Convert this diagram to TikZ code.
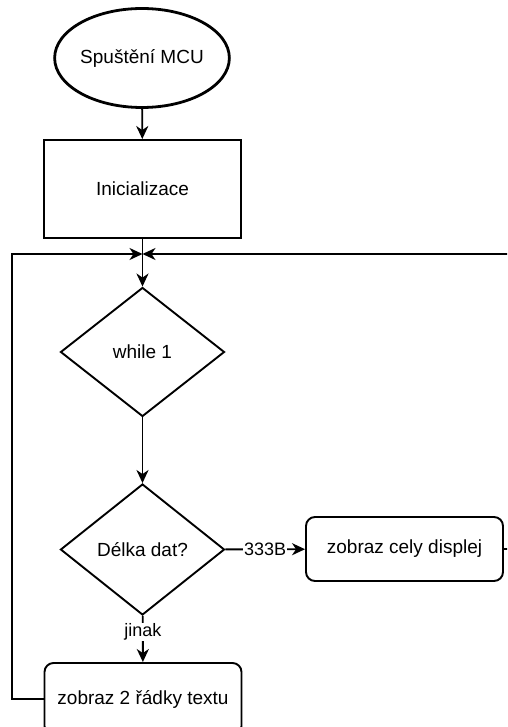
\documentclass[tikz,border=0pt]{standalone}
\usepackage{fontspec}
\setmainfont{Liberation Sans}
\usetikzlibrary{shapes.geometric,arrows.meta}
\begin{document}
\begin{tikzpicture}[x=1pt,y=-1pt,
  every node/.style={font=\fontsize{19}{22}\selectfont},
  base/.style={draw, line width=1.9pt, inner sep=0pt},
  rectbox/.style={base, rectangle, minimum width=197pt},
  roundbox/.style={base, rectangle, rounded corners=9pt, minimum width=197pt},
  decision/.style={base, diamond, minimum width=164pt, minimum height=129pt},
  arr/.style={line width=1.9pt, -{Stealth[length=13pt,width=12pt,inset=4pt]}},
  lbl/.style={fill=white, inner sep=1pt, font=\fontsize{18}{20}\selectfont}]
\useasboundingbox (0,0) rectangle (507,727);
\clip (0,0) rectangle (507,727);
\node[base, ellipse, line width=2.8pt, minimum width=166pt, minimum height=99pt] (start) at (142,58) {Spuštění MCU};
\node[rectbox, minimum height=98pt] (init) at (142.5,189) {Inicializace};
\node[decision] (w1) at (142.5,352) {while 1};
\node[decision, minimum height=131pt] (dd) at (142.5,549.5) {Délka dat?};
\node[roundbox, minimum height=64pt] (disp) at (404.5,549) {zobraz cely displej};
\node[roundbox, minimum height=72pt] (bot) at (143,699) {zobraz 2 řádky textu};
\coordinate (m) at (142.5,254);
\coordinate (lc) at (12,699);
\coordinate (rc) at (525,549);
\draw[arr] (start) -- (init);
\draw[arr] (init) -- (w1);
\draw[arr] (w1) -- (dd);
\draw[arr] (dd) -- node[lbl]{333B} (disp);
\draw[arr] (dd) -- node[lbl, pos=0.35]{jinak} (bot);
\draw[arr] (bot.west) -- (lc) |- (m);
\draw[arr] (disp.east) -- (rc) |- (m);
\end{tikzpicture}
\end{document}
